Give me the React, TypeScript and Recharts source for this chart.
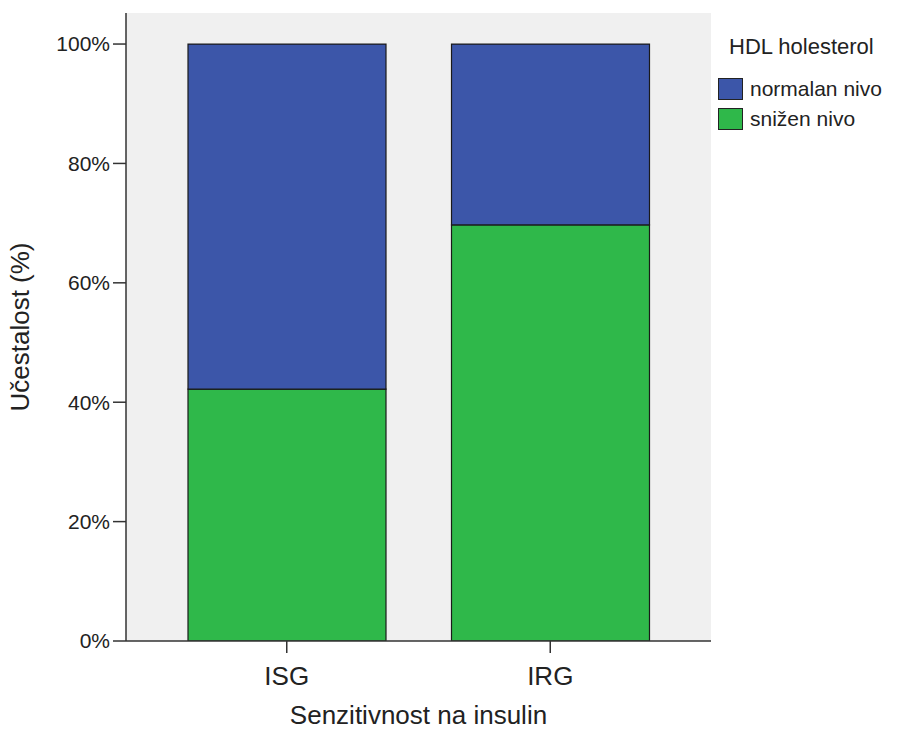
import { BarChart, Bar, XAxis, YAxis, CartesianGrid, Legend, Label } from "recharts";

// #region Sample data
const categories = ["ISG", "IRG"];
const snizenNivo = [42.2, 69.7];
const normalanNivo = [57.8, 30.3];
const yTicks = [0, 20, 40, 60, 80, 100];
// #endregion

const data = categories.map((name, i) => ({
    name,
    snizen: snizenNivo[i],
    normalan: normalanNivo[i],
}));

const FONT = "'Liberation Sans', Arial, sans-serif";
const BLUE = "#3c56a9";
const GREEN = "#2fb84a";
const TEXT = "#222";

const legendItems = [
    { label: "normalan nivo", color: BLUE },
    { label: "snižen nivo", color: GREEN },
];

const LegendBox = () => (
    <div style={{ fontFamily: FONT, color: TEXT, fontSize: 21 }}>
        <div style={{ marginLeft: 11, marginBottom: 14, lineHeight: "26px", fontSize: 22 }}>HDL holesterol</div>
        {legendItems.map((e) => (
            <div key={e.label} style={{ display: "flex", alignItems: "center", height: 30 }}>
                <span
                    style={{
                        width: 25,
                        height: 22,
                        boxSizing: "border-box",
                        background: e.color,
                        border: "1.5px solid #222",
                        marginRight: 7,
                        display: "inline-block",
                    }}
                />
                {e.label}
            </div>
        ))}
    </div>
);

const App = () => {
    return (
        <div style={{ position: "absolute", top: 0, left: 0, width: 909, height: 731, background: "#fff" }}>
            <BarChart
                width={909}
                height={731}
                data={data}
                margin={{ top: 13, right: 198, bottom: 0, left: 0 }}
                barSize={198}
            >
                <CartesianGrid fill="#f0f0f0" horizontal={false} vertical={false} />
                <XAxis
                    dataKey="name"
                    height={90}
                    padding={{ left: 29, right: 29 }}
                    axisLine={{ stroke: "#333", strokeWidth: 1.5 }}
                    tickLine={{ stroke: "#333", strokeWidth: 1.5 }}
                    tickSize={12}
                    tick={{ fill: TEXT, fontSize: 26, fontFamily: FONT }}
                    tickMargin={14}
                >
                    <Label
                        value="Senzitivnost na insulin"
                        position="insideBottom"
                        offset={7}
                        style={{ fill: TEXT, fontSize: 26, fontFamily: FONT }}
                    />
                </XAxis>
                <XAxis
                    xAxisId="top"
                    dataKey="name"
                    orientation="top"
                    height={0}
                    tick={false}
                    tickLine={false}
                    axisLine={{ stroke: "#555", strokeWidth: 2 }}
                />
                <YAxis
                    width={126}
                    domain={[0, 105.2]}
                    ticks={yTicks}
                    allowDataOverflow
                    tickFormatter={(v) => `${v}%`}
                    axisLine={{ stroke: "#333", strokeWidth: 1.5 }}
                    tickLine={{ stroke: "#333", strokeWidth: 1.5 }}
                    tickSize={13}
                    tick={{ fill: TEXT, fontSize: 21, fontFamily: FONT }}
                    tickMargin={3}
                >
                    <Label
                        value="Učestalost (%)"
                        angle={-90}
                        position="insideLeft"
                        offset={20}
                        style={{ textAnchor: "middle", fill: TEXT, fontSize: 26, fontFamily: FONT }}
                    />
                </YAxis>
                <YAxis
                    yAxisId="right"
                    orientation="right"
                    width={0}
                    type="number"
                    domain={[0, 100]}
                    tick={false}
                    tickLine={false}
                    axisLine={{ stroke: "#555", strokeWidth: 2 }}
                />
                <Bar dataKey="snizen" stackId="a" fill={GREEN} stroke="#1a1a1a" strokeWidth={1.2} isAnimationActive={false} />
                <Bar dataKey="normalan" stackId="a" fill={BLUE} stroke="#1a1a1a" strokeWidth={1.2} isAnimationActive={false} />
                <Legend
                    layout="vertical"
                    verticalAlign="middle"
                    align="center"
                    content={<LegendBox />}
                    wrapperStyle={{ top: 34, left: 718, width: 190 }}
                />
            </BarChart>
        </div>
    );
};

export default App;
